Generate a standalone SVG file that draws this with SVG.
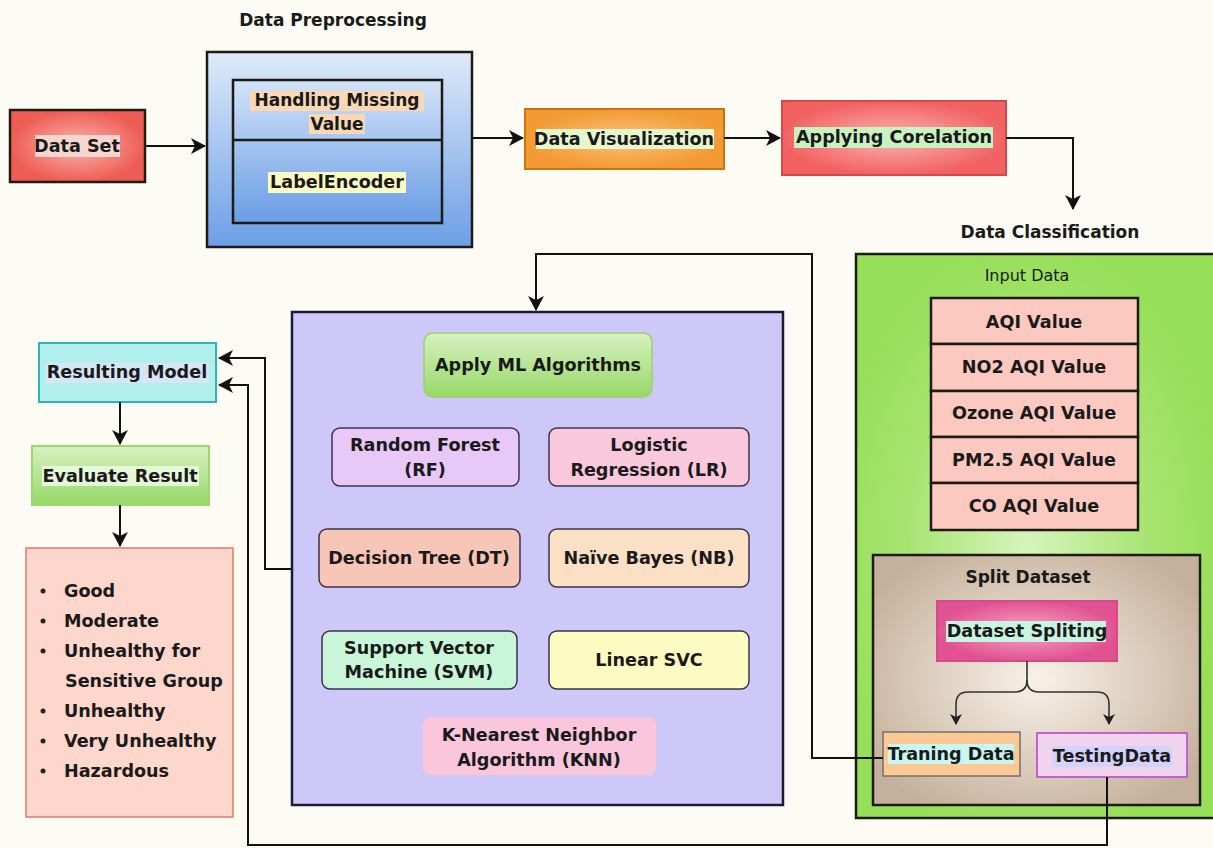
<svg xmlns="http://www.w3.org/2000/svg" width="1213" height="848" viewBox="0 0 1213 848">
<defs>
<style>
text{font-family:"DejaVu Sans","Liberation Sans",sans-serif;font-weight:bold;font-size:17.6px;fill:#1a1a1a;text-anchor:middle;dominant-baseline:central}
.lbl{font-size:17px}
.reg{font-weight:normal;font-size:16px}
.list text{text-anchor:start}
.conn{fill:none;stroke:#111;stroke-width:2}
.thin{fill:none;stroke:#333;stroke-width:1.6}
.box{stroke:#1e1a14;stroke-width:2.5}
.alg{stroke:#3a3448;stroke-width:1.5}
</style>
<marker id="ah" markerWidth="16" markerHeight="16" refX="14" refY="8" orient="auto" markerUnits="userSpaceOnUse">
<path d="M0,0 L15,8 L0,16 L4,8 z" fill="#111"/>
</marker>
<marker id="ahs" markerWidth="12" markerHeight="12" refX="10" refY="6" orient="auto" markerUnits="userSpaceOnUse">
<path d="M0,0 L11,6 L0,12 L3,6 z" fill="#222"/>
</marker>
<radialGradient id="gRed"><stop offset="0" stop-color="#f9b6ae"/><stop offset="1" stop-color="#ee5d55"/></radialGradient>
<radialGradient id="gRed2"><stop offset="0" stop-color="#fbb4b4"/><stop offset="1" stop-color="#f26262"/></radialGradient>
<radialGradient id="gOrange"><stop offset="0" stop-color="#fcc27a"/><stop offset="1" stop-color="#f39a32"/></radialGradient>
<radialGradient id="gPink"><stop offset="0" stop-color="#f6a8c6"/><stop offset="1" stop-color="#e25292"/></radialGradient>
<radialGradient id="gBrown" cx="0.5" cy="0.5" r="0.6"><stop offset="0" stop-color="#f9f1e8"/><stop offset="1" stop-color="#c5b19b"/></radialGradient>
<radialGradient id="gGreenBig" cx="0.47" cy="0.52" r="0.55"><stop offset="0" stop-color="#d6f4bd"/><stop offset="0.6" stop-color="#a8e472"/><stop offset="1" stop-color="#96df58"/></radialGradient>
<linearGradient id="gBlue" x1="0" y1="0" x2="0" y2="1"><stop offset="0" stop-color="#dfeaf9"/><stop offset="1" stop-color="#6c9ee6"/></linearGradient>
<linearGradient id="gBlue2" x1="0" y1="0" x2="0" y2="1"><stop offset="0" stop-color="#d3e3f7"/><stop offset="1" stop-color="#6a9ce5"/></linearGradient>
<linearGradient id="gGreen" x1="0" y1="0" x2="0" y2="1"><stop offset="0" stop-color="#d8f0c2"/><stop offset="1" stop-color="#96d968"/></linearGradient>
</defs>
<rect width="1213" height="848" fill="#fdfcf4"/>

<text x="333" y="20" class="lbl">Data Preprocessing</text>
<text x="1050" y="232" class="lbl">Data Classification</text>

<g id="data-set">
<rect x="10" y="110" width="135" height="72" fill="url(#gRed)" class="box"/>
<rect x="35" y="135" width="85" height="22" fill="#f8d6d0"/>
<text x="77" y="146">Data Set</text>
</g>

<g id="data-preprocessing">
<rect x="207" y="52" width="265" height="195" fill="url(#gBlue)" class="box"/>
<rect x="233" y="80" width="209" height="143" fill="url(#gBlue2)" class="box"/>
<line x1="233" y1="140" x2="442" y2="140" stroke="#1e1a14" stroke-width="2.5"/>
<rect x="250" y="91" width="174" height="20" fill="#fad8b6"/>
<rect x="309" y="114" width="56" height="20" fill="#fad8b6"/>
<text x="337" y="100" style="font-size:17px">Handling Missing</text>
<text x="337" y="124" style="font-size:17px">Value</text>
<rect x="268" y="172" width="138" height="21" fill="#fafac2"/>
<text x="337" y="182">LabelEncoder</text>
</g>

<g id="data-visualization">
<rect x="525" y="109" width="199" height="60" fill="url(#gOrange)" stroke="#c8740f" stroke-width="2"/>
<rect x="536" y="129" width="178" height="20" fill="#e6f6cf"/>
<text x="624" y="139">Data Visualization</text>
</g>

<g id="applying-corelation">
<rect x="782" y="101" width="224" height="74" fill="url(#gRed2)" stroke="#d34848" stroke-width="2"/>
<rect x="794" y="127" width="199" height="21" fill="#c8f3c0"/>
<text x="894" y="137">Applying Corelation</text>
</g>

<g id="data-classification">
<rect x="856" y="254" width="365" height="564" fill="url(#gGreenBig)" class="box"/>
<text x="1027" y="275" class="reg">Input Data</text>
</g>

<g id="input-table">
<rect x="931" y="298" width="207" height="46" fill="#fbc9c0" class="box"/>
<rect x="931" y="344" width="207" height="47" fill="#fbc9c0" class="box"/>
<rect x="931" y="391" width="207" height="46" fill="#fbc9c0" class="box"/>
<rect x="931" y="437" width="207" height="46" fill="#fbc9c0" class="box"/>
<rect x="931" y="483" width="207" height="47" fill="#fbc9c0" class="box"/>
<text x="1034" y="322">AQI Value</text>
<text x="1034" y="367">NO2 AQI Value</text>
<text x="1034" y="413">Ozone AQI Value</text>
<text x="1034" y="460">PM2.5 AQI Value</text>
<text x="1034" y="506">CO AQI Value</text>
</g>

<g id="split-dataset">
<rect x="873" y="555" width="327" height="250" fill="url(#gBrown)" class="box"/>
<text x="1028" y="577" class="lbl">Split Dataset</text>
</g>

<g id="dataset-spliting">
<rect x="937" y="601" width="180" height="60" fill="url(#gPink)" stroke="#d44a8a" stroke-width="2"/>
<rect x="946" y="621" width="160" height="21" fill="#c8f4e0"/>
<text x="1027" y="631">Dataset Spliting</text>
</g>

<g id="training-data">
<rect x="883" y="732" width="137" height="44" fill="#fcc994" stroke="#707070" stroke-width="1.5"/>
<rect x="888" y="744" width="126" height="20" fill="#c8f6f0"/>
<text x="951" y="754">Traning Data</text>
</g>

<g id="testing-data">
<rect x="1037" y="733" width="150" height="44" fill="#f1d2ef" stroke="#c262d2" stroke-width="2"/>
<rect x="1052" y="746" width="120" height="21" fill="#d2d2fa"/>
<text x="1112" y="756">TestingData</text>
</g>

<g id="ml-container">
<rect x="292" y="312" width="491" height="493" fill="#cec8f8" stroke="#1c1a3a" stroke-width="2.5"/>
</g>

<g id="apply-ml">
<rect x="424" y="333" width="228" height="64" rx="9" fill="url(#gGreen)" stroke="#9dd06e" stroke-width="1.5"/>
<text x="538" y="365">Apply ML Algorithms</text>
</g>
<g id="random-forest">
<rect x="332" y="428" width="187" height="58" rx="8" fill="#e8c8f6" class="alg"/>
<text x="425" y="445">Random Forest</text>
<text x="425" y="470">(RF)</text>
</g>
<g id="logistic-regression">
<rect x="549" y="428" width="200" height="58" rx="8" fill="#f9c8dc" class="alg"/>
<text x="649" y="445">Logistic</text>
<text x="649" y="470">Regression (LR)</text>
</g>
<g id="decision-tree">
<rect x="319" y="529" width="201" height="58" rx="8" fill="#f8c6b6" class="alg"/>
<text x="419" y="558">Decision Tree (DT)</text>
</g>
<g id="naive-bayes">
<rect x="549" y="529" width="200" height="58" rx="8" fill="#fbe0c6" class="alg"/>
<text x="649" y="558">Naïve Bayes (NB)</text>
</g>
<g id="svm">
<rect x="322" y="631" width="195" height="58" rx="8" fill="#c9f6d9" class="alg"/>
<text x="419" y="648">Support Vector</text>
<text x="419" y="672">Machine (SVM)</text>
</g>
<g id="linear-svc">
<rect x="549" y="631" width="200" height="58" rx="8" fill="#fcfcc2" class="alg"/>
<text x="649" y="660">Linear SVC</text>
</g>
<g id="knn">
<rect x="423" y="717" width="233" height="58" rx="8" fill="#f9c6dc"/>
<text x="539" y="735">K-Nearest Neighbor</text>
<text x="539" y="760">Algorithm (KNN)</text>
</g>

<g id="resulting-model">
<rect x="39" y="343" width="177" height="59" fill="#b0efeb" stroke="#33b3b3" stroke-width="2"/>
<rect x="46" y="363" width="163" height="20" fill="#d6e6f6"/>
<text x="127" y="372">Resulting Model</text>
</g>

<g id="evaluate-result">
<rect x="32" y="446" width="177" height="59" fill="url(#gGreen)" stroke="#9bd86a" stroke-width="2"/>
<rect x="42" y="466" width="157" height="20" fill="#e4f7d6"/>
<text x="120" y="476">Evaluate Result</text>
</g>

<g id="categories" class="list">
<rect x="26" y="548" width="207" height="269" fill="#fdd6cc" stroke="#e2786a" stroke-width="1.5"/>
<circle cx="43" cy="591" r="2.5" fill="#222"/>
<circle cx="43" cy="621" r="2.5" fill="#222"/>
<circle cx="43" cy="651" r="2.5" fill="#222"/>
<circle cx="43" cy="711" r="2.5" fill="#222"/>
<circle cx="43" cy="741" r="2.5" fill="#222"/>
<circle cx="43" cy="771" r="2.5" fill="#222"/>
<text x="64" y="591">Good</text>
<text x="64" y="621">Moderate</text>
<text x="64" y="651">Unhealthy for</text>
<text x="65" y="681">Sensitive Group</text>
<text x="64" y="711">Unhealthy</text>
<text x="64" y="741">Very Unhealthy</text>
<text x="64" y="771">Hazardous</text>
</g>

<g id="connectors">
<path class="conn" d="M145,146 L205,146" marker-end="url(#ah)"/>
<path class="conn" d="M472,138 L523,138" marker-end="url(#ah)"/>
<path class="conn" d="M724,138 L780,138" marker-end="url(#ah)"/>
<path class="conn" d="M1006,138 L1073,138 L1073,209" marker-end="url(#ah)"/>
<path class="conn" d="M883,758 L812,758 L812,254 L536,254 L536,310" marker-end="url(#ah)"/>
<path class="conn" d="M292,569 L265,569 L265,358 L219,358" marker-end="url(#ah)"/>
<path class="conn" d="M1107,777 L1107,845 L248,845 L248,385 L219,385" marker-end="url(#ah)"/>
<path class="conn" d="M120,402 L120,444" marker-end="url(#ah)"/>
<path class="conn" d="M120,505 L120,546" marker-end="url(#ah)"/>
<path class="thin" d="M1027,661 L1027,680 Q1027,692 1015,692 L968,692 Q956,692 956,704 L956,724" marker-end="url(#ahs)"/>
<path class="thin" d="M1027,680 Q1027,692 1039,692 L1097,692 Q1109,692 1109,704 L1109,724" marker-end="url(#ahs)"/>
</g>
</svg>
